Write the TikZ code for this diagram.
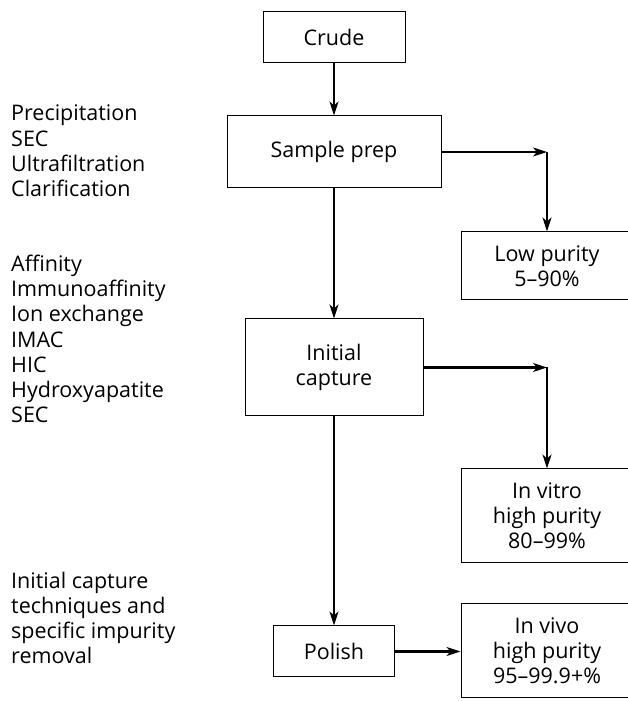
\documentclass[tikz,border=0pt]{standalone}
\usepackage{fontspec}
\setmainfont{Open Sans}
\usetikzlibrary{arrows.meta}

\begin{document}
\begin{tikzpicture}[x=1pt, y=1pt,
    box/.style={draw, line width=1pt, align=center, inner sep=0pt},
    flow/.style={line width=2.2pt, -{Stealth[length=14pt, width=9pt, inset=4pt]}},
    side/.style={anchor=west, align=left, inner sep=0pt},
    font=\fontsize{21.5}{25.2}\selectfont]
    \useasboundingbox (0,0) rectangle (628,701);

    % main column
    \node[box, minimum width=142, minimum height=51] (crude) at (334,663.5) {Crude};
    \node[box, minimum width=214, minimum height=72] (prep) at (334,549) {Sample prep};
    \node[box, minimum width=178, minimum height=97] (capture) at (334,333.5) {Initial\\capture};
    \node[box, minimum width=121, minimum height=51] (polish) at (334,49.5) {Polish};

    % purity boxes (cut by the right margin)
    \node[box, minimum width=172, minimum height=68] (low) at (547,435) {Low purity\\5\textendash90\%};
    \node[box, minimum width=172, minimum height=94] (vitro) at (547,185) {In vitro\\high purity\\80\textendash99\%};
    \node[box, minimum width=172, minimum height=94] (vivo) at (547,50) {In vivo\\high purity\\95\textendash99.9+\%};

    \coordinate (turnA) at (547,549);
    \coordinate (turnB) at (547,333.5);

    \draw[flow] (crude) -- (prep);
    \draw[flow] (prep) -- (capture);
    \draw[flow] (capture) -- (polish);
    \draw[flow] (prep.east) -- (turnA);
    \draw[flow] (turnA) -- (low.north);
    \draw[flow] (capture.east) -- (turnB);
    \draw[flow] (turnB) -- (vitro.north);
    \draw[flow] (polish.east) -- (vivo.west |- polish.east);

    % techniques
    \node[side] (prepmethods) at (11,550) {Precipitation\\SEC\\Ultrafiltration\\Clarification};
    \node[side] (capturemethods) at (11,362) {Affinity\\Immunoaffinity\\Ion exchange\\IMAC\\HIC\\Hydroxyapatite\\SEC};
    \node[side] (polishmethods) at (11,83) {Initial capture\\techniques and\\specific impurity\\removal};
\end{tikzpicture}
\end{document}
